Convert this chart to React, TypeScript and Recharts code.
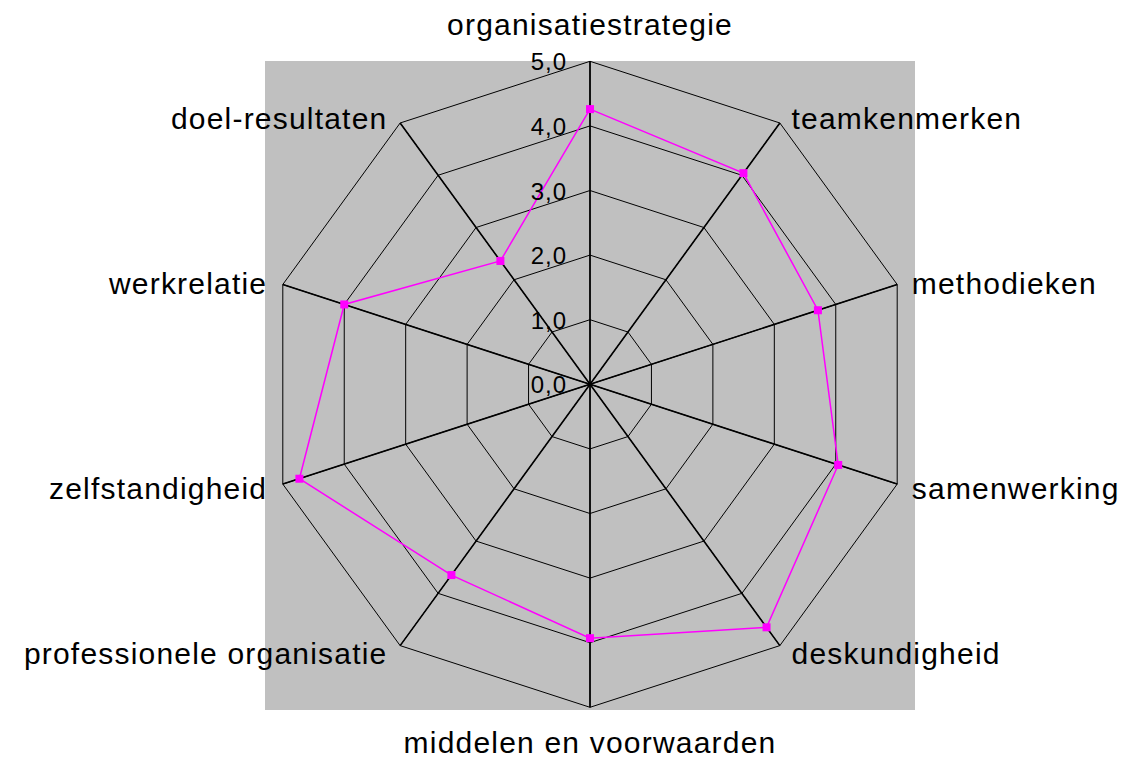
import React from "react";
import { PolarAngleAxis, PolarGrid, PolarRadiusAxis, Radar, RadarChart } from "recharts";

const categories = [
  "organisatiestrategie",
  "teamkenmerken",
  "methodieken",
  "samenwerking",
  "deskundigheid",
  "middelen en voorwaarden",
  "professionele organisatie",
  "zelfstandigheid",
  "werkrelatie",
  "doel-resultaten",
];
const scores = [4.26, 4.04, 3.71, 4.04, 4.65, 3.93, 3.65, 4.73, 4.0, 2.36];
const radiusTicks = [0, 1, 2, 3, 4, 5];

const data = categories.map((name, i) => ({ name, score: scores[i] }));

const FONT = "'Liberation Sans', Arial, sans-serif";
const CX = 582;
const CY = 376.3;
const R = 323;

function AngleTick(props: any) {
  const { x, y, payload, textAnchor } = props;
  let dx = 0;
  let dy = 12;
  if (textAnchor === "start") dx = 7;
  else if (textAnchor === "end") dx = -8;
  else dy = y < CY ? -18 : 38;
  return (
    <text
      x={x + dx}
      y={y + dy}
      textAnchor={textAnchor}
      fontFamily={FONT}
      fontSize={30}
      letterSpacing={1.2}
      fill="#000"
    >
      {payload.value}
    </text>
  );
}

function RadiusTick(props: any) {
  const { x, y, payload } = props;
  return (
    <text x={x - 23} y={y + 9} textAnchor="end" fontFamily={FONT} fontSize={24} letterSpacing={1} fill="#000">
      {Number(payload.value).toFixed(1).replace(".", ",")}
    </text>
  );
}

function SquareDot(props: any) {
  const { cx, cy } = props;
  return <rect x={cx - 4} y={cy - 4} width={8} height={8} fill="#ff00ff" />;
}

export default function App() {
  return (
    <div style={{ position: "relative", width: 1118, height: 754 }}>
      <div
        style={{
          position: "absolute",
          left: 257,
          top: 53,
          width: 650,
          height: 649,
          background: "#c0c0c0",
        }}
      />
      <div style={{ position: "absolute", left: 0, top: 0 }}>
        <RadarChart
          width={1118}
          height={754}
          data={data}
          cx={CX}
          cy={CY}
          outerRadius={R}
          margin={{ top: 0, right: 0, bottom: 0, left: 0 }}
        >
          <PolarGrid gridType="polygon" stroke="#000" strokeWidth={1} strokeOpacity={1} />
          <PolarGrid gridType="polygon" polarRadius={[0]} stroke="#000" strokeWidth={1.6} strokeOpacity={1} />
          <PolarAngleAxis dataKey="name" tick={AngleTick} tickLine={false} axisLine={false} />
          <PolarRadiusAxis
            angle={90}
            domain={[0, 5]}
            ticks={radiusTicks as any}
            tickCount={6}
            tick={RadiusTick}
            axisLine={false}
            tickLine={false}
          />
          <Radar
            dataKey="score"
            stroke="#ff00ff"
            strokeWidth={1.5}
            fill="none"
            fillOpacity={0}
            dot={SquareDot}
            isAnimationActive={false}
          />
        </RadarChart>
      </div>
    </div>
  );
}
